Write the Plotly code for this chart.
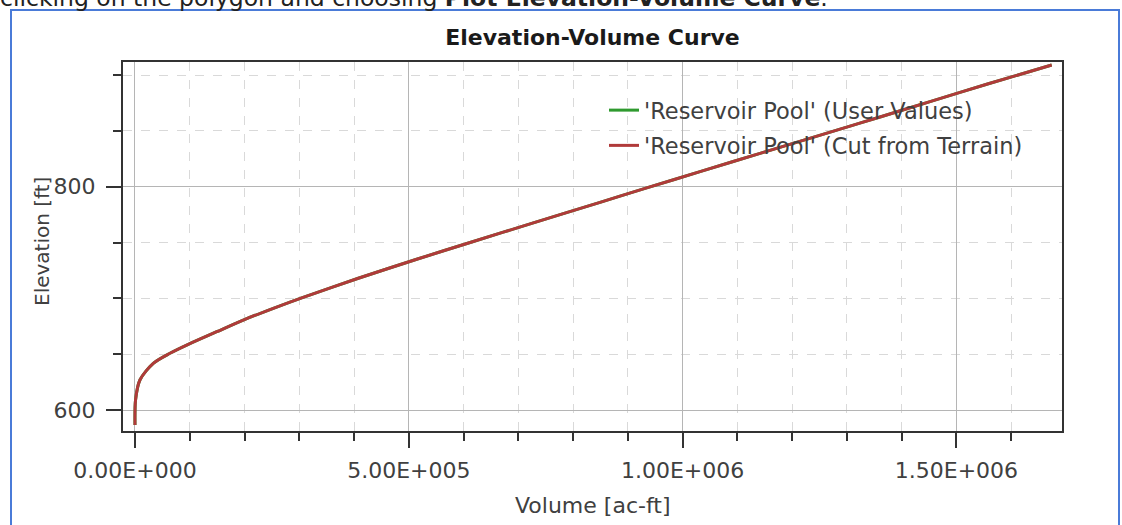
import plotly.graph_objects as go

# ---- data ----
volume_acft = [0, 1000, 9000, 33400, 63900, 97300, 149200, 200900, 252600, 304400,
               407800, 514400, 614900, 727400, 849200, 934400, 1031800, 1144400,
               1305700, 1360500, 1451800, 1558300, 1674000]
elevation_ft = [586.6, 609.0, 626.9, 641.8, 650.8, 658.8, 670.1, 681.2, 691.1, 700.5,
                718.0, 735.0, 750.5, 767.6, 786.0, 798.9, 813.5, 830.3,
                854.3, 862.4, 876.2, 892.2, 909.0]

series_names = ["'Reservoir Pool' (User Values)", "'Reservoir Pool' (Cut from Terrain)"]

x_tickvals = [0, 500000, 1000000, 1500000]
x_ticktext = ["0.00E+000", "5.00E+005", "1.00E+006", "1.50E+006"]
y_tickvals = [600, 800]
y_ticktext = ["600", "800"]

title_text = "Elevation-Volume Curve"
x_title = "Volume [ac-ft]"
y_title = "Elevation [ft]"
top_text = "clicking on the polygon and choosing <b>Plot Elevation-Volume Curve</b>."

# ---- layout geometry ----
W, H = 1122, 525
L, R, T, B = 123, 60, 62, 94
PW, PH = W - L - R, H - T - B


def px_x(p):
    return (p - L) / PW


def px_y(p):
    return (H - B - p) / PH


FONT = "DejaVu Sans"
TXT = "#404040"

fig = go.Figure()
fig.add_trace(go.Scatter(x=volume_acft, y=elevation_ft, mode="lines", name=series_names[0],
                         line=dict(color="#2f9a2f", width=3, shape="spline", smoothing=0.8),
                         legendgroup="a"))
fig.add_trace(go.Scatter(x=volume_acft, y=elevation_ft, mode="lines", name=series_names[1],
                         line=dict(color="#b03a3a", width=3, shape="spline", smoothing=0.8),
                         legendgroup="b"))

axis_common = dict(
    showline=True, linecolor="#333333", linewidth=2, mirror=True,
    ticks="outside", ticklen=15, tickwidth=2, tickcolor="#333333",
    showgrid=True, gridcolor="#b5b5b5", gridwidth=1, zeroline=False,
    tickfont=dict(family=FONT, size=22, color=TXT),
)

fig.update_xaxes(
    range=[-21900, 1692800], tickmode="array", tickvals=x_tickvals, ticktext=x_ticktext,
    ticklabelstandoff=4,
    minor=dict(dtick=100000, tick0=0, ticks="outside", ticklen=8, tickwidth=1.5,
               tickcolor="#333333", showgrid=True, gridcolor="#d9d9d9", griddash="dash",
               gridwidth=1),
    **axis_common,
)
fig.update_yaxes(
    range=[581.2, 911.7], tickmode="array", tickvals=y_tickvals, ticktext=y_ticktext,
    ticklabelstandoff=6,
    minor=dict(dtick=50, tick0=600, ticks="outside", ticklen=8, tickwidth=1.5,
               tickcolor="#333333", showgrid=True, gridcolor="#d9d9d9", griddash="dash",
               gridwidth=1),
    **axis_common,
)

fig.update_layout(
    width=W, height=H,
    margin=dict(l=L, r=R, t=T, b=B),
    paper_bgcolor="white", plot_bgcolor="white",
    title=dict(text="<b>" + title_text + "</b>", x=0.5, xref="paper",
               y=1 - 37 / H, yref="container", yanchor="middle", xanchor="center",
               font=dict(family=FONT, size=22, color="#1a1a1a")),
    showlegend=True,
    legend=dict(x=px_x(604), y=px_y(89), xanchor="left", yanchor="top",
                bgcolor="rgba(0,0,0,0)", traceorder="grouped", tracegroupgap=3,
                font=dict(family=FONT, size=22.5, color=TXT)),
    annotations=[
        dict(text=x_title, xref="paper", yref="paper", x=0.5, y=px_y(505),
             xanchor="center", yanchor="middle", showarrow=False,
             font=dict(family=FONT, size=22, color=TXT)),
        dict(text=y_title, xref="paper", yref="paper", x=px_x(42), y=px_y(242),
             xanchor="center", yanchor="middle", showarrow=False, textangle=-90,
             font=dict(family=FONT, size=20, color=TXT)),
        dict(text=top_text, xref="paper", yref="paper", x=px_x(-2), y=px_y(-2),
             xanchor="left", yanchor="middle", showarrow=False,
             font=dict(family=FONT, size=23.5, color="#222222")),
    ],
    shapes=[
        dict(type="rect", xref="paper", yref="paper",
             x0=px_x(11), x1=px_x(1119), y0=px_y(540), y1=px_y(10),
             line=dict(color="#4a7bd8", width=2), fillcolor="rgba(0,0,0,0)", layer="below"),
    ],
)

fig.write_html("out.html", config={"displayModeBar": False},
               post_script="document.body.style.margin='0px';")
